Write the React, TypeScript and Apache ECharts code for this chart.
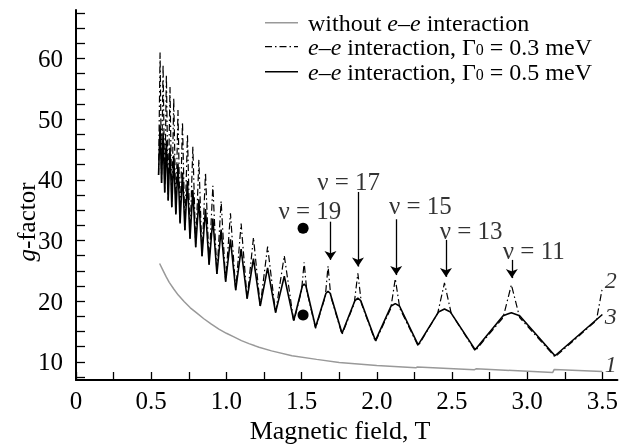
import React, { useEffect, useRef } from "react";
import * as echarts from "echarts";

// Without e-e interaction (curve 1)
const grayB = [0.556, 0.58, 0.6, 0.62, 0.65, 0.68, 0.72, 0.76, 0.8, 0.85, 0.9, 0.95, 1.0, 1.05, 1.1, 1.15, 1.217, 1.3, 1.436, 1.6, 1.75, 2.0, 2.26, 2.27, 2.65, 2.66, 3.17, 3.18, 3.5];
const grayG = [26.2, 25.0, 24.0, 23.1, 22.0, 21.0, 19.9, 18.9, 18.1, 17.1, 16.2, 15.4, 14.7, 14.1, 13.5, 13.0, 12.4, 11.8, 11.0, 10.4, 9.9, 9.4, 9.0, 9.15, 8.7, 8.85, 8.25, 8.75, 8.4];

// e-e interaction, Gamma0 = 0.5 meV (curve 3, solid)
const solidB = [
  0.549, 0.559, 0.569, 0.579, 0.59, 0.601, 0.613, 0.625, 0.637, 0.65, 0.664, 0.678, 0.692, 0.708, 0.724, 0.741,
  0.758, 0.777, 0.796, 0.817, 0.838, 0.861, 0.885, 0.91, 0.937, 0.965, 0.995, 1.027, 1.062, 1.098, 1.138, 1.18,
  1.225, 1.274, 1.327, 1.385, 1.448, 1.505, 1.517, 1.529, 1.593, 1.662, 1.676, 1.69, 1.769, 1.855, 1.874, 1.893,
  1.991, 2.095, 2.123, 2.151, 2.275, 2.41, 2.45, 2.49, 2.654, 2.84, 2.895, 2.95, 3.185, 3.5,
];
const solidG = [
  40.8, 49.0, 39.5, 47.8, 37.9, 46.5, 36.6, 45.3, 35.5, 44.0, 34.3, 42.6, 32.8, 41.2, 31.7, 39.8,
  30.3, 38.3, 28.9, 36.8, 27.4, 35.2, 26.0, 33.6, 24.5, 31.8, 23.2, 30.2, 21.8, 28.6, 20.4, 27.0,
  19.2, 25.5, 18.1, 24.1, 16.8, 22.5, 22.8, 22.5, 15.7, 21.3, 21.6, 21.3, 14.7, 20.1, 20.5, 20.1,
  13.5, 19.2, 19.6, 19.2, 12.8, 18.2, 18.7, 18.2, 12.0, 17.6, 18.1, 17.6, 11.0, 17.8,
];

// e-e interaction, Gamma0 = 0.3 meV (curve 2, dash-dot)
const dashB = [
  0.549, 0.559, 0.569, 0.579, 0.59, 0.601, 0.613, 0.625, 0.637, 0.65, 0.664, 0.678, 0.692, 0.708, 0.724, 0.741,
  0.758, 0.777, 0.796, 0.817, 0.838, 0.861, 0.885, 0.91, 0.937, 0.965, 0.995, 1.027, 1.062, 1.098, 1.138, 1.18,
  1.225, 1.274, 1.327, 1.385, 1.448, 1.5, 1.517, 1.534, 1.593, 1.658, 1.676, 1.694, 1.769, 1.85, 1.874, 1.898,
  1.991, 2.093, 2.123, 2.153, 2.275, 2.405, 2.45, 2.495, 2.654, 2.84, 2.895, 2.95, 3.185, 3.46, 3.5,
];
const dashG = [
  40.8, 61.0, 39.5, 59.0, 37.9, 57.3, 36.6, 55.3, 35.5, 53.5, 34.3, 51.5, 32.8, 49.5, 31.7, 47.5,
  30.3, 45.5, 28.9, 43.3, 27.4, 41.2, 26.0, 39.0, 24.5, 36.5, 23.2, 34.5, 21.8, 32.8, 20.4, 30.5,
  19.2, 29.0, 18.1, 27.5, 16.6, 21.8, 26.4, 21.8, 15.5, 20.8, 25.8, 20.8, 14.5, 19.6, 24.6, 19.6,
  13.3, 18.8, 23.7, 18.8, 12.6, 18.0, 23.0, 18.0, 11.8, 17.3, 22.7, 17.3, 10.8, 16.8, 22.2,
];

// Experimental points
const dotB = [1.51, 1.51];
const dotG = [32.0, 17.7];

// Filling factor annotations
const annoText = ["ν = 19", "ν = 17", "ν = 15", "ν = 13", "ν = 11"];
const annoB = [1.555, 1.813, 2.29, 2.627, 3.044];
const annoG = [34.9, 39.8, 35.85, 31.7, 28.4];
const arrowB = [1.692, 1.875, 2.129, 2.46, 2.898];
const arrowTop = [33.1, 38.0, 33.5, 30.1, 26.8];
const arrowTip = [26.8, 25.7, 24.3, 24.0, 23.8];

// Curve numbers
const curveText = ["1", "2", "3"];
const curveB = [3.556, 3.556, 3.556];
const curveG = [9.6, 23.5, 17.55];

// Axis ticks
const xLabels = [0, 0.5, 1.0, 1.5, 2.0, 2.5, 3.0, 3.5];
const xTicks = [0, 0.25, 0.5, 0.75, 1.0, 1.25, 1.5, 1.75, 2.0, 2.25, 2.5, 2.75, 3.0, 3.25, 3.5];
const yLabels = [10, 20, 30, 40, 50, 60];
const yTicks = [7.5, 10, 12.5, 15, 17.5, 20, 22.5, 25, 27.5, 30, 32.5, 35, 37.5, 40, 42.5, 45, 47.5, 50, 52.5, 55, 57.5, 60, 62.5, 65, 67.5];

const FONT = "'Liberation Serif', 'DejaVu Serif', serif";

const zip = (a: number[], b: number[]) => a.map((v, i) => [v, b[i]]);

export default function App() {
  const ref = useRef<HTMLDivElement>(null);
  useEffect(() => {
    if (!ref.current) return;
    const chart = echarts.init(ref.current, undefined, { renderer: "svg" });
    const legendRich = {
      n: { fontFamily: FONT, fontSize: 24, lineHeight: 21, color: "#000" },
      i: { fontFamily: FONT, fontSize: 24, lineHeight: 21, fontStyle: "italic", color: "#000" },
      sub: { fontFamily: FONT, fontSize: 16, lineHeight: 10, verticalAlign: "bottom", color: "#000" },
    };
    chart.setOption({
      animation: false,
      textStyle: { fontFamily: FONT },
      grid: { left: 76, right: 1, top: 10, bottom: 65, containLabel: false },
      xAxis: {
        type: "value",
        min: 0,
        max: 3.6,
        axisLine: { lineStyle: { color: "#000", width: 2 } },
        axisTick: { inside: true, length: 8, customValues: xTicks, lineStyle: { color: "#000", width: 1.3 } },
        axisLabel: {
          customValues: xLabels,
          formatter: (v: number) => (v === 0 ? "0" : v.toFixed(1)),
          fontFamily: FONT,
          fontSize: 25,
          color: "#000",
          margin: 8,
        },
        splitLine: { show: false },
      },
      yAxis: {
        type: "value",
        min: 7,
        max: 68,
        axisLine: { show: true, lineStyle: { color: "#000", width: 2 } },
        axisTick: { show: true, inside: true, length: 9, customValues: yTicks, lineStyle: { color: "#000", width: 1.3 } },
        axisLabel: { customValues: yLabels, fontFamily: FONT, fontSize: 25, color: "#000", margin: 13 },
        splitLine: { show: false },
      },
      series: [
        {
          name: "without e–e interaction",
          type: "line",
          data: zip(grayB, grayG),
          symbol: "none",
          lineStyle: { color: "#999", width: 1.5 },
        },
        {
          name: "Γ0 = 0.3 meV",
          type: "line",
          data: zip(dashB, dashG),
          symbol: "none",
          lineStyle: { color: "#000", width: 1.2, type: [7, 3, 1.5, 3] },
        },
        {
          name: "Γ0 = 0.5 meV",
          type: "line",
          data: zip(solidB, solidG),
          symbol: "none",
          lineStyle: { color: "#000", width: 1.6 },
        },
        {
          name: "points",
          type: "scatter",
          data: zip(dotB, dotG),
          symbol: "circle",
          symbolSize: 11,
          itemStyle: { color: "#000", opacity: 1 },
          silent: true,
          markLine: {
            silent: true,
            symbol: ["none", "arrow"],
            symbolSize: 9,
            label: { show: false },
            emphasis: { disabled: true },
            lineStyle: { color: "#000", width: 1.3, type: "solid", opacity: 1 },
            itemStyle: { color: "#000" },
            data: arrowB.map((b, i) => [{ coord: [b, arrowTop[i]] }, { coord: [b, arrowTip[i]] }]),
          },
        },
        {
          name: "annotations",
          type: "scatter",
          data: annoB.map((b, i) => ({ value: [b, annoG[i]], name: annoText[i] })),
          symbolSize: 1,
          itemStyle: { color: "rgba(0,0,0,0)" },
          silent: true,
          label: {
            show: true,
            position: "inside",
            formatter: (p: any) => p.name,
            fontFamily: FONT,
            fontSize: 25,
            color: "#000",
          },
        },
        {
          name: "curves",
          type: "scatter",
          data: curveB.map((b, i) => ({ value: [b, curveG[i]], name: curveText[i] })),
          symbolSize: 1,
          itemStyle: { color: "rgba(0,0,0,0)" },
          silent: true,
          label: {
            show: true,
            position: "inside",
            formatter: (p: any) => p.name,
            fontFamily: FONT,
            fontStyle: "italic",
            fontSize: 24,
            color: "#000",
          },
        },
      ],
      graphic: [
        { type: "line", shape: { x1: 265, y1: 22.7, x2: 298, y2: 22.7 }, style: { stroke: "#999", lineWidth: 1.5 } },
        { type: "line", shape: { x1: 265, y1: 46.7, x2: 298, y2: 46.7 }, style: { stroke: "#000", lineWidth: 1.2, lineDash: [7, 3, 1.5, 3] } },
        { type: "line", shape: { x1: 265, y1: 71.7, x2: 298, y2: 71.7 }, style: { stroke: "#000", lineWidth: 1.6 } },
        {
          type: "text",
          x: 308,
          y: 22.7,
          style: { text: "{n|without }{i|e–e}{n| interaction}", rich: legendRich, verticalAlign: "middle", align: "left" },
        },
        {
          type: "text",
          x: 308,
          y: 46.7,
          style: { text: "{i|e–e}{n| interaction, Γ}{sub|0}{n| = 0.3 meV}", rich: legendRich, verticalAlign: "middle", align: "left" },
        },
        {
          type: "text",
          x: 308,
          y: 71.7,
          style: { text: "{i|e–e}{n| interaction, Γ}{sub|0}{n| = 0.5 meV}", rich: legendRich, verticalAlign: "middle", align: "left" },
        },
        {
          type: "text",
          x: 340,
          y: 430,
          style: { text: "Magnetic field, T", fontFamily: FONT, fontSize: 26, fill: "#000", align: "center", verticalAlign: "middle" },
        },
        {
          type: "text",
          x: 26,
          y: 222,
          rotation: Math.PI / 2,
          style: {
            text: "{i|g}{n|-factor}",
            rich: {
              n: { fontFamily: FONT, fontSize: 25, color: "#000" },
              i: { fontFamily: FONT, fontSize: 25, fontStyle: "italic", color: "#000" },
            },
            align: "center",
            verticalAlign: "middle",
          },
        },
      ],
    });
    return () => chart.dispose();
  }, []);
  return <div ref={ref} style={{ position: "fixed", left: 0, top: 0, width: 621, height: 445 }} />;
}
